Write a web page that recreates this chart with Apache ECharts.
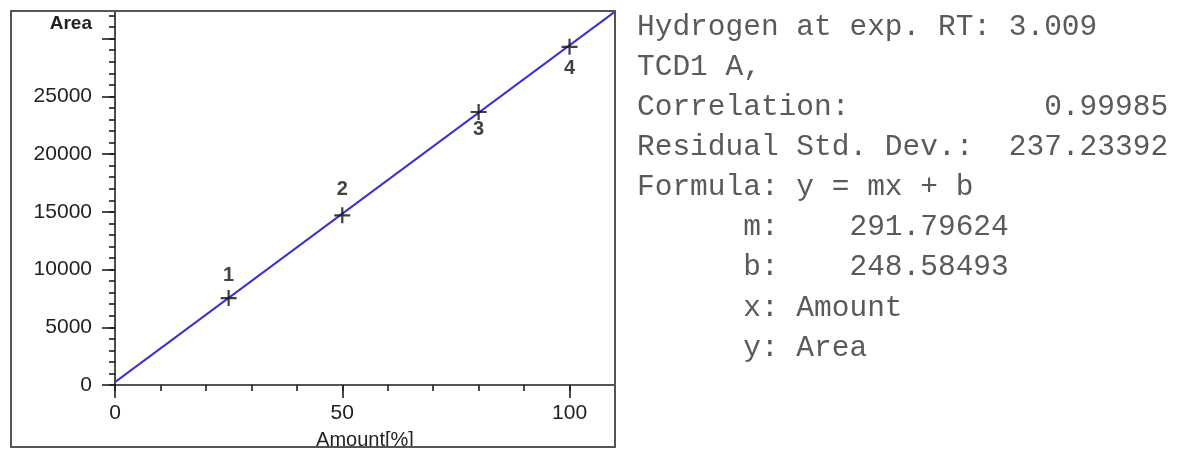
<!DOCTYPE html>
<html>
<head>
<meta charset="utf-8">
<script src="https://cdn.jsdelivr.net/npm/echarts@6/dist/echarts.min.js"></script>
<style>
html,body{margin:0;padding:0;background:#fff;}
#chart{width:1177px;height:450px;}
</style>
</head>
<body>
<div id="chart"></div>
<script>
// ---- data ----
const amountPct = [25, 50, 80, 100];
const areaVals = [7530, 14700, 23650, 29300];
const pointLabels = ['1', '2', '3', '4'];
const fitAmount = [0, 110];
const fitArea = [249, 32346];
const xTickLabels = [0, 50, 100];
const yTickLabels = [0, 5000, 10000, 15000, 20000, 25000];
const xAxisName = 'Amount[%]';
const yAxisName = 'Area';
const infoLines = [
  'Hydrogen at exp. RT: 3.009',
  'TCD1 A,',
  'Correlation:           0.99985',
  'Residual Std. Dev.:  237.23392',
  'Formula: y = mx + b',
  '      m:    291.79624',
  '      b:    248.58493',
  '      x: Amount',
  '      y: Area'
];

// ---- styles ----
const labelOffsets = [[0, -23], [0, -26], [0, 17], [0, 22]];
const axisColor = '#1e1e1e';
const labelFont = 'Liberation Sans, Arial, sans-serif';

const chart = echarts.init(document.getElementById('chart'), null, {renderer: 'canvas'});

const X_MIN = 0, X_MAX = 110, Y_MIN = 0, Y_MAX = 32400;

const scatterData = amountPct.map((x, i) => ({
  value: [x, areaVals[i]],
  label: {
    show: true,
    formatter: pointLabels[i],
    position: 'inside',
    offset: labelOffsets[i],
    fontSize: 20,
    fontWeight: 'bold',
    fontFamily: labelFont,
    color: '#111'
  }
}));

const fitData = fitAmount.map((x, i) => [x, fitArea[i]]);

const plusPath = 'path://M-1.4,-10 H1.4 V-1.4 H10 V1.4 H1.4 V10 H-1.4 V1.4 H-10 V-1.4 H-1.4 Z';

const graphics = [
  {
    type: 'rect',
    z: 100,
    shape: {x: 11, y: 11, width: 604, height: 436},
    style: {fill: 'none', stroke: '#555', lineWidth: 2}
  },
  {
    type: 'rect',
    z: 99,
    shape: {x: 0, y: 448, width: 640, height: 2},
    style: {fill: '#fff'}
  }
];
infoLines.forEach((t, i) => {
  graphics.push({
    type: 'text',
    x: 637,
    y: 27 + i * 40.1,
    style: {
      text: t,
      font: '29.5px "Liberation Mono", "Courier New", monospace',
      fill: '#5a5a5a',
      textVerticalAlign: 'middle',
      textAlign: 'left'
    }
  });
});

const option = {
  backgroundColor: '#fff',
  animation: false,
  grid: {left: 115, top: 11, right: 562, bottom: 65, outerBoundsMode: 'none', containLabel: false},
  xAxis: [
    {
      type: 'value', min: X_MIN, max: X_MAX, interval: 50,
      position: 'bottom',
      name: xAxisName, nameLocation: 'middle', nameGap: 45,
      nameTextStyle: {fontSize: 20, fontFamily: labelFont, color: '#222'},
      axisLine: {show: true, onZero: false, lineStyle: {color: axisColor, width: 1.6}},
      axisTick: {show: true, length: 13, lineStyle: {color: axisColor, width: 1.6}},
      axisLabel: {
        show: true, margin: 18, fontSize: 21, fontFamily: labelFont, color: '#222',
        formatter: v => (xTickLabels.indexOf(v) >= 0 ? String(v) : '')
      },
      splitLine: {show: false}
    },
    {
      type: 'value', min: X_MIN, max: X_MAX, interval: 10,
      position: 'bottom', offset: 0,
      axisLine: {show: false},
      axisTick: {show: true, length: 6, lineStyle: {color: axisColor, width: 1.6}},
      axisLabel: {show: false},
      splitLine: {show: false}
    }
  ],
  yAxis: [
    {
      type: 'value', min: Y_MIN, max: Y_MAX, interval: 5000,
      position: 'left',
      name: yAxisName, nameLocation: 'end', nameGap: -13,
      nameTextStyle: {
        fontSize: 19, fontWeight: 'bold', fontFamily: labelFont, color: '#222',
        align: 'right', verticalAlign: 'middle', padding: [0, 23, 0, 0]
      },
      axisLine: {show: true, onZero: false, lineStyle: {color: axisColor, width: 1.6}},
      axisTick: {show: true, length: 13, lineStyle: {color: axisColor, width: 1.6}},
      axisLabel: {
        show: true, margin: 23, fontSize: 21, fontFamily: labelFont, color: '#222',
        formatter: v => (yTickLabels.indexOf(v) >= 0 ? String(v) : '')
      },
      splitLine: {show: false}
    },
    {
      type: 'value', min: Y_MIN, max: Y_MAX, interval: 1000,
      position: 'left', offset: 0,
      axisLine: {show: false},
      axisTick: {show: true, length: 6, lineStyle: {color: axisColor, width: 1.6}},
      axisLabel: {show: false},
      splitLine: {show: false}
    }
  ],
  series: [
    {
      type: 'line',
      name: 'fit',
      xAxisIndex: 0, yAxisIndex: 0,
      data: fitData,
      showSymbol: false,
      symbol: 'none',
      lineStyle: {color: '#3a34d0', width: 2},
      silent: true,
      z: 2
    },
    {
      type: 'scatter',
      name: 'points',
      xAxisIndex: 0, yAxisIndex: 0,
      data: scatterData,
      symbol: plusPath,
      symbolSize: 16,
      itemStyle: {color: '#111'},
      z: 3
    }
  ],
  graphic: graphics
};

chart.setOption(option);
</script>
</body>
</html>
